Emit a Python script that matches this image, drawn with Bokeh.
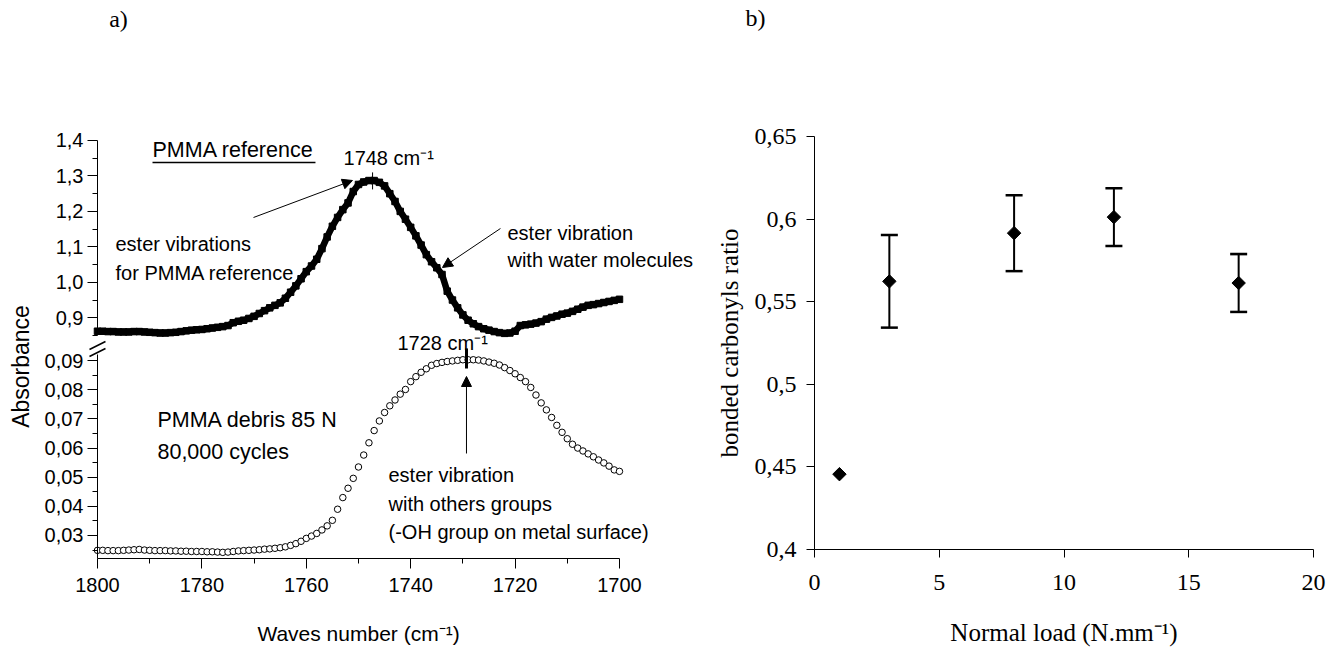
from math import pi
from bokeh.plotting import figure
from bokeh.models import (ColumnDataSource, Range1d, FixedTicker, CustomJSTickFormatter,
                          Label, Arrow, NormalHead, TeeHead, Whisker, LinearAxis)
from bokeh.layouts import row
from bokeh.embed import file_html
from bokeh.resources import INLINE

# ---------------- data ----------------
wavenumber = list(range(1800, 1699, -1))  # cm-1, 1800 -> 1700

pmma_reference = [
    0.862, 0.862, 0.861, 0.861, 0.860, 0.860, 0.860, 0.861, 0.861, 0.860,
    0.859, 0.858, 0.857, 0.857, 0.858, 0.859, 0.861, 0.863, 0.865, 0.866,
    0.867, 0.869, 0.871, 0.873, 0.875, 0.878, 0.886, 0.890, 0.893, 0.898,
    0.904, 0.912, 0.920, 0.928, 0.935, 0.942, 0.955, 0.972, 0.990, 1.010,
    1.030, 1.046, 1.065, 1.095, 1.128, 1.158, 1.183, 1.205, 1.224, 1.256,
    1.276, 1.283, 1.287, 1.287, 1.282, 1.272, 1.250, 1.228, 1.200, 1.178,
    1.155, 1.131, 1.105, 1.078, 1.058, 1.041, 1.022, 0.975, 0.950, 0.928,
    0.908, 0.893, 0.883, 0.875, 0.869, 0.865, 0.861, 0.858, 0.856, 0.857,
    0.862, 0.878, 0.880, 0.882, 0.885, 0.889, 0.896, 0.901, 0.905, 0.910,
    0.913, 0.918, 0.924, 0.930, 0.935, 0.937, 0.940, 0.943, 0.946, 0.949,
    0.952]

pmma_debris = [
    0.0249, 0.0249, 0.0248, 0.0248, 0.0248, 0.0249, 0.0250, 0.0251, 0.0252, 0.0250,
    0.0249, 0.0248, 0.0248, 0.0248, 0.0247, 0.0247, 0.0246, 0.0246, 0.0245, 0.0245,
    0.0245, 0.0244, 0.0244, 0.0243, 0.0242, 0.0243, 0.0245, 0.0247, 0.0248, 0.0249,
    0.0250, 0.0251, 0.0253, 0.0254, 0.0256, 0.0258, 0.0261, 0.0266, 0.0272, 0.0280,
    0.0290, 0.0298, 0.0307, 0.0319, 0.0333, 0.0352, 0.0390, 0.0430, 0.0462, 0.0496,
    0.0535, 0.0576, 0.0618, 0.0660, 0.0693, 0.0722, 0.0745, 0.0765, 0.0785, 0.0801,
    0.0828, 0.0845, 0.0860, 0.0872, 0.0884, 0.0890, 0.0894, 0.0897, 0.0899, 0.0901,
    0.0903, 0.0903, 0.0903, 0.0902, 0.0899, 0.0895, 0.0891, 0.0885, 0.0876, 0.0866,
    0.0855, 0.0842, 0.0828, 0.0808, 0.0782, 0.0755, 0.0731, 0.0705, 0.0678, 0.0654,
    0.0632, 0.0613, 0.0600, 0.0590, 0.0580, 0.0570, 0.0559, 0.0549, 0.0538, 0.0525,
    0.0520]

x_ticks_a = [1700, 1720, 1740, 1760, 1780, 1800]
x_minor_a = [1710, 1730, 1750, 1770, 1790]
y_ticks_upper = [0.9, 1.0, 1.1, 1.2, 1.3, 1.4]
y_minor_upper = [0.85, 0.95, 1.05, 1.15, 1.25, 1.35]
y_ticks_lower = [0.03, 0.04, 0.05, 0.06, 0.07, 0.08, 0.09]
y_minor_lower = [0.025, 0.035, 0.045, 0.055, 0.065, 0.075, 0.085]

normal_load = [1, 3, 8, 12, 17]
carbonyl_ratio = [0.4456, 0.5623, 0.5915, 0.6012, 0.5613]
ratio_error = [0.0, 0.028, 0.023, 0.0175, 0.0175]
x_ticks_b = [0, 5, 10, 15, 20]
y_ticks_b = [0.4, 0.45, 0.5, 0.55, 0.6, 0.65]

FONT_A = "Liberation Sans"
FONT_B = "Liberation Serif"


def style_axis(ax, font, size, label_size, tick_out, minor_out):
    ax.axis_line_color = "black"
    ax.axis_line_width = 1
    ax.major_tick_line_color = "black"
    ax.minor_tick_line_color = "black"
    ax.major_tick_out = tick_out
    ax.major_tick_in = 0
    ax.minor_tick_out = minor_out
    ax.minor_tick_in = 0
    ax.major_label_text_font = font
    ax.major_label_text_font_size = size
    ax.major_label_text_color = "black"
    ax.axis_label_text_font = font
    ax.axis_label_text_font_size = label_size
    ax.axis_label_text_font_style = "normal"
    ax.axis_label_text_color = "black"


def txt(p, x, y, text, font=FONT_A, size="20px", align="left", angle=0, yr="default"):
    p.add_layout(Label(x=x, y=y, text=text, text_font=font, text_font_size=size,
                       text_align=align, text_baseline="middle", text_color="black",
                       angle=angle, y_range_name=yr))


HEAD = dict(size=10, fill_color="black", line_color="black")

# ---------------- panel a (broken y axis: two y ranges in one figure) ----------------
pa = figure(width=712, height=648, x_range=Range1d(1818.58, 1682.18),
            y_range=Range1d(-0.00879, 0.21359),
            toolbar_location=None, output_backend="svg", min_border=0,
            x_axis_location=None, y_axis_location=None, outline_line_color=None)
pa.extra_y_ranges = {"upper": Range1d(-0.0330, 1.79492)}
pa.grid.grid_line_color = None

ya_low = LinearAxis(fixed_location=1800, bounds=(0.0221, 0.0921),
                    ticker=FixedTicker(ticks=y_ticks_lower, minor_ticks=y_minor_lower),
                    formatter=CustomJSTickFormatter(code="return tick.toFixed(2).replace('.', ',')"))
ya_up = LinearAxis(y_range_name="upper", fixed_location=1800, bounds=(0.85, 1.4),
                   ticker=FixedTicker(ticks=y_ticks_upper, minor_ticks=y_minor_upper),
                   formatter=CustomJSTickFormatter(code="return tick.toFixed(1).replace('.', ',')"))
xa = LinearAxis(fixed_location=0.0221, bounds=(1700, 1800),
                ticker=FixedTicker(ticks=x_ticks_a, minor_ticks=x_minor_a),
                axis_label="Waves number (cm\u207b\u00b9)")
for ax in (ya_low, ya_up, xa):
    style_axis(ax, FONT_A, "20px", "21px", 10, 5)
    ax.major_label_standoff = 4
xa.major_label_standoff = 10
xa.axis_label_standoff = 26
pa.add_layout(ya_low, "left")
pa.add_layout(ya_up, "left")
pa.add_layout(xa, "below")

src_a = ColumnDataSource(dict(w=wavenumber, ref=pmma_reference, deb=pmma_debris))
pa.line("w", "ref", source=src_a, line_width=6.5, line_color="black", y_range_name="upper")
pa.scatter("w", "ref", source=src_a, marker="square", size=6.5, color="black", y_range_name="upper")
pa.scatter("w", "deb", source=src_a, marker="circle", size=6.5, fill_color="white",
           line_color="black", line_width=1)

# peak markers, underline and axis-break marks
pa.segment(x0=[1747.3], y0=[1.262], x1=[1747.3], y1=[1.31], line_color="black",
           line_width=1, y_range_name="upper")
pa.segment(x0=[1789.46], y0=[1.3379], x1=[1758.24], y1=[1.3379], line_color="black",
           line_width=1.5, y_range_name="upper")
pa.segment(x0=[1801.53, 1801.53], y0=[0.8104, 0.7907], x1=[1798.47, 1798.47], y1=[0.8330, 0.8133],
           line_color="black", line_width=1.5, y_range_name="upper")
pa.segment(x0=[1729.31], y0=[0.0873], x1=[1729.31], y1=[0.0942], line_color="black", line_width=3)

txt(pa, 1814.56, 0.08799, "Absorbance", size="23px", align="center", angle=pi / 2)
txt(pa, 1795.98, 0.20741, "a)", font=FONT_B, size="24px", align="center")
txt(pa, 1789.46, 1.3718, "PMMA reference", size="21.5px", yr="upper")
txt(pa, 1752.87, 1.352, "1748 cm\u207b\u00b9", yr="upper")
txt(pa, 1796.55, 1.1094, "ester vibrations", yr="upper")
txt(pa, 1796.55, 1.0276, "for PMMA reference", yr="upper")
txt(pa, 1721.46, 1.1377, "ester vibration", yr="upper")
txt(pa, 1721.46, 1.0615, "with water molecules", yr="upper")
txt(pa, 1742.53, 0.09622, "1728 cm\u207b\u00b9")
txt(pa, 1788.51, 0.06946, "PMMA debris 85 N", size="21.5px")
txt(pa, 1788.51, 0.05848, "80,000 cycles", size="21.5px")
txt(pa, 1744.25, 0.05058, "ester vibration")
txt(pa, 1744.25, 0.04097, "with others groups")
txt(pa, 1744.25, 0.03102, "(-OH group on metal surface)")

pa.add_layout(Arrow(x_start=1770.11, y_start=1.1828, x_end=1751.15, y_end=1.2872,
                    line_color="black", line_width=1, end=NormalHead(**HEAD), y_range_name="upper"))
pa.add_layout(Arrow(x_start=1722.8, y_start=1.1518, x_end=1733.91, y_end=1.0418,
                    line_color="black", line_width=1, end=NormalHead(**HEAD), y_range_name="upper"))
pa.add_layout(Arrow(x_start=1729.31, y_start=0.05813, x_end=1729.31, y_end=0.08456,
                    line_color="black", line_width=1, end=NormalHead(**HEAD)))

# ---------------- panel b ----------------
pb = figure(width=618, height=648, x_range=Range1d(-4.088, 20.681), y_range=Range1d(0.34007, 0.73232),
            toolbar_location=None, output_backend="svg", min_border=0,
            x_axis_location=None, y_axis_location=None, outline_line_color=None)
pb.grid.grid_line_color = None
xb = LinearAxis(fixed_location=0.4, bounds=(0, 20), ticker=FixedTicker(ticks=x_ticks_b),
                axis_label="Normal load (N.mm\u207b\u00b9)")
yb = LinearAxis(fixed_location=0, bounds=(0.4, 0.65), ticker=FixedTicker(ticks=y_ticks_b),
                axis_label="bonded carbonyls ratio",
                formatter=CustomJSTickFormatter(
                    code="return parseFloat(tick.toFixed(2)).toString().replace('.', ',')"))
for ax in (xb, yb):
    style_axis(ax, FONT_B, "24px", "25px", 8, 0)
xb.major_label_standoff = 18
xb.axis_label_standoff = 25
yb.major_label_standoff = 10
yb.axis_label_standoff = 9
pb.add_layout(xb, "below")
pb.add_layout(yb, "left")

eb_load = [l for l, e in zip(normal_load, ratio_error) if e > 0]
eb_up = [r + e for r, e in zip(carbonyl_ratio, ratio_error) if e > 0]
eb_lo = [r - e for r, e in zip(carbonyl_ratio, ratio_error) if e > 0]
src_eb = ColumnDataSource(dict(x=eb_load, upper=eb_up, lower=eb_lo))
pb.add_layout(Whisker(source=src_eb, base="x", upper="upper", lower="lower",
                      line_color="black", line_width=2,
                      upper_head=TeeHead(size=17, line_width=2.5, line_color="black"),
                      lower_head=TeeHead(size=17, line_width=2.5, line_color="black")))
src_b = ColumnDataSource(dict(x=normal_load, y=carbonyl_ratio))
pb.scatter("x", "y", source=src_b, marker="square", angle=pi / 4, size=9.5, color="black")

txt(pb, -2.365, 0.72143, "b)", font=FONT_B, size="24px", align="center")

layout = row(pa, pb)
open("out.html", "w").write(file_html(layout, INLINE))
